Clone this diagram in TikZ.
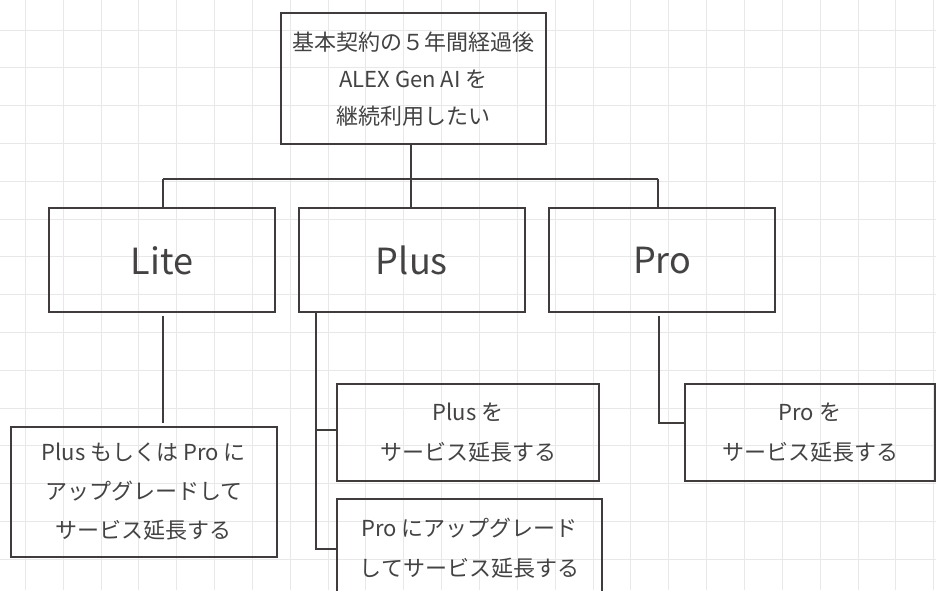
\documentclass[tikz,border=0pt]{standalone}
\usepackage{fontspec}
\setmainfont{Noto Sans CJK JP}
\definecolor{linec}{HTML}{403C3C}
\definecolor{textc}{HTML}{444242}
\definecolor{gridc}{HTML}{E8E8E8}
\begin{document}
\begin{tikzpicture}[x=1pt,y=-1pt,
  box/.style={draw=linec, line width=2pt, inner sep=0pt, align=center, text=textc,
    font={\fontsize{22}{39}\selectfont}},
  bigbox/.style={box, font={\fontsize{36}{40}\selectfont}, minimum width=225.7pt, minimum height=104pt},
  conn/.style={draw=linec, line width=2pt}]
\useasboundingbox (0,0) rectangle (936,590);
\clip (0,0) rectangle (936,590);
\fill[white] (0,0) rectangle (936,590);
\foreach \i in {0,...,24} \draw[gridc, line width=1pt] ({25.3+\i*37.85},0) -- ({25.3+\i*37.85},590);
\foreach \j in {0,...,14} \draw[gridc, line width=1pt] (0,{30+\j*37.8}) -- (936,{30+\j*37.8});

\node[box, minimum width=265.3pt, minimum height=130.7pt, font={\fontsize{22}{37}\selectfont}] (top) at (413.35,78.65)
  {基本契約の５年間経過後\\ALEX Gen AI を\\継続利用したい};
\node[bigbox] (lite) at (161.85,260.3) {Lite};
\node[bigbox] (plus) at (411.85,260.3) {Plus};
\node[bigbox] (pro) at (662.15,260.3) {Pro};
\node[box, minimum width=266pt, minimum height=130pt] (litec) at (143.7,491.7)
  {Plus もしくは Pro に\\アップグレードして\\サービス延長する};
\node[box, minimum width=261.7pt, minimum height=96.7pt, font={\fontsize{22}{40}\selectfont}] (plusc1) at (468.15,432.35)
  {Plus を\\サービス延長する};
\node[box, minimum width=264.7pt, minimum height=98pt, font={\fontsize{22}{40}\selectfont}] (plusc2) at (469.35,548.3)
  {Pro にアップグレード\\してサービス延長する};
\node[box, minimum width=250pt, minimum height=96.7pt, font={\fontsize{22}{40}\selectfont}] (proc) at (810,432.35)
  {Pro を\\サービス延長する};

\coordinate (b0) at (410.7,178.5);
\coordinate (bL) at (163,178.5);
\coordinate (bR) at (658.3,178.5);
\draw[conn] (top.south -| b0) -- (b0);
\draw[conn] (bL) -- (bR);
\draw[conn] (bL) -- (bL |- lite.north);
\draw[conn] (b0) -- (b0 |- plus.north);
\draw[conn] (bR) -- (bR |- pro.north);

\coordinate (lx) at (162.7,0);
\draw[conn, shorten <=2.5pt, shorten >=2.5pt] (lx |- lite.south) -- (lx |- litec.north);

\coordinate (px) at (316,549.3);
\coordinate (p1) at (316,430);
\draw[conn] (px |- plus.south) -- (px) -- (px -| plusc2.west);
\draw[conn] (p1) -- (p1 -| plusc1.west);

\coordinate (rx) at (659.3,422.7);
\draw[conn, shorten <=2.5pt] (rx |- pro.south) -- (rx) -- (rx -| proc.west);
\end{tikzpicture}
\end{document}
